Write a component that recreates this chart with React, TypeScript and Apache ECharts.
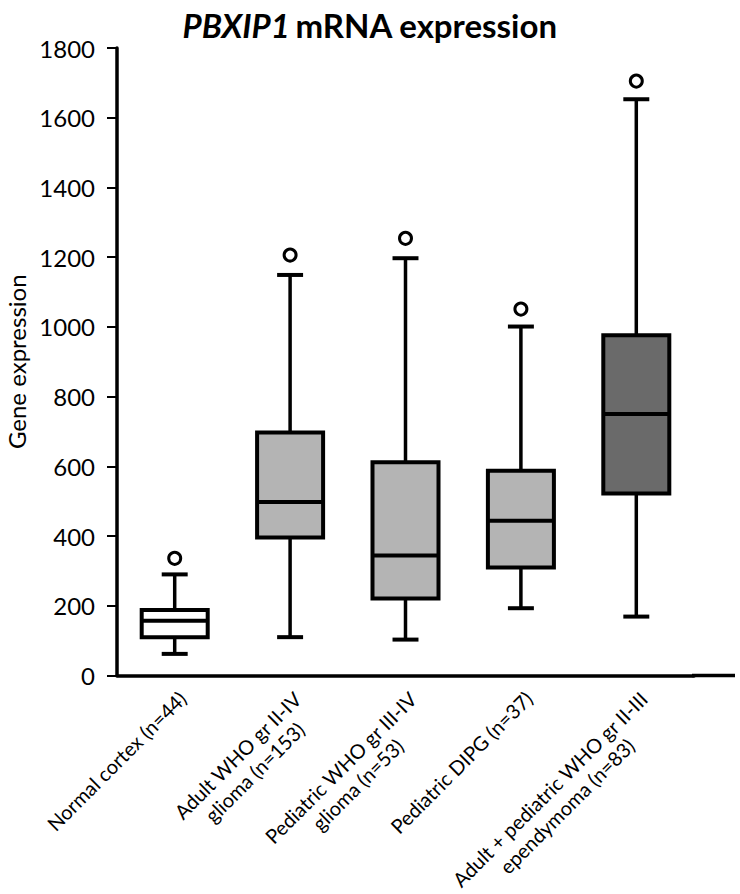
import React, { useEffect, useRef } from 'react';
import * as echarts from 'echarts';

const categories = [
  'Normal cortex (n=44)',
  'Adult WHO gr II-IV\nglioma (n=153)',
  'Pediatric WHO gr III-IV\nglioma (n=53)',
  'Pediatric DIPG (n=37)',
  'Adult + pediatric WHO gr II-III\nependymoma (n=83)',
];
const whiskerLow = [62, 110, 103, 193, 169];
const q1Values = [110, 396, 221, 310, 522];
const medians = [157, 498, 344, 444, 750];
const q3Values = [188, 697, 612, 587, 976];
const whiskerHigh = [290, 1149, 1197, 1001, 1653];
const outliers = [336, 1206, 1254, 1051, 1705];
const yTicks = { min: 0, max: 1800, interval: 200 };

const boxFills = ['#ffffff', '#b4b4b4', '#b4b4b4', '#b4b4b4', '#6a6a6a'];
const FONT = 'Lato, "Open Sans", sans-serif';
const X_FONT = 20;

export default function App() {
  const ref = useRef<HTMLDivElement>(null);
  useEffect(() => {
    document.body.style.margin = '0';
    const chart = echarts.init(ref.current!, null, { renderer: 'svg' });

    const ctx = document.createElement('canvas').getContext('2d')!;
    ctx.font = `${X_FONT}px Lato`;
    const rich: any = {};
    categories.forEach((c, i) => {
      const w = Math.max(...c.split('\n').map((l) => ctx.measureText(l).width));
      rich['l' + i] = {
        width: Math.ceil(w) + 2,
        align: 'center',
        fontSize: X_FONT,
        fontFamily: FONT,
        color: '#000',
        lineHeight: 24,
      };
    });

    const gridTop = 48;
    const gridBottom = 218.5;
    const gridLeft = 117;
    const gridRight = 46;

    const boxData = categories.map((_, i) => [
      i,
      whiskerLow[i],
      q1Values[i],
      medians[i],
      q3Values[i],
      whiskerHigh[i],
    ]);

    chart.setOption({
      animation: false,
      backgroundColor: '#ffffff',
      title: {
        text: '{i|PBXIP1} {b|mRNA expression}',
        left: 'center',
        top: 3,
        textStyle: {
          rich: {
            i: { fontFamily: FONT, fontSize: 33, fontWeight: 'bold', fontStyle: 'italic', color: '#000' },
            b: { fontFamily: FONT, fontSize: 33, fontWeight: 'bold', color: '#000' },
          },
        },
      },
      grid: {
        top: gridTop,
        bottom: gridBottom,
        left: gridLeft,
        right: gridRight,
        containLabel: false,
        outerBoundsMode: 'none',
      },
      xAxis: {
        type: 'category',
        data: categories,
        boundaryGap: true,
        axisLine: { lineStyle: { color: '#000', width: 3.5 } },
        axisTick: { alignWithLabel: true, length: 6, lineStyle: { color: '#000', width: 3 } },
        axisLabel: {
          rotate: 45,
          align: 'right',
          verticalAlign: 'top',
          margin: 10,
          interval: 0,
          rich,
          formatter: (value: string, index: number) =>
            value
              .split('\n')
              .map((l) => `{l${index}|${l}}`)
              .join('\n'),
        },
      },
      yAxis: {
        type: 'value',
        min: yTicks.min,
        max: yTicks.max,
        interval: yTicks.interval,
        name: 'Gene expression',
        nameLocation: 'middle',
        nameGap: 84,
        nameTextStyle: { fontFamily: FONT, fontSize: 24, color: '#000' },
        splitLine: { show: false },
        axisLine: { show: true, lineStyle: { color: '#000', width: 3.5 } },
        axisTick: { show: true, length: 10, lineStyle: { color: '#000', width: 2 } },
        axisLabel: {
          fontFamily: FONT,
          fontSize: 24,
          color: '#000',
          margin: 22,
          formatter: (v: number) => String(v),
        },
      },
      graphic: [
        {
          type: 'line',
          z: 10,
          shape: { x1: 740 - gridRight - 2, y1: 894 - gridBottom, x2: 735, y2: 894 - gridBottom },
          style: { stroke: '#000', lineWidth: 3.5 },
        },
      ],
      series: [
        {
          type: 'custom',
          data: boxData,
          encode: { x: 0, y: [1, 2, 3, 4, 5] },
          z: 3,
          renderItem: (params: any, api: any) => {
            const i = api.value(0);
            const [cx, yMin] = api.coord([i, api.value(1)]);
            const yQ1 = api.coord([i, api.value(2)])[1];
            const yMed = api.coord([i, api.value(3)])[1];
            const yQ3 = api.coord([i, api.value(4)])[1];
            const yMax = api.coord([i, api.value(5)])[1];
            const band = api.size([1, 0])[0];
            const bw = band * 0.572;
            const cw = band * 0.225;
            const stroke = { stroke: '#000', lineWidth: 3.5 };
            return {
              type: 'group',
              children: [
                { type: 'line', shape: { x1: cx, y1: yMax, x2: cx, y2: yQ3 }, style: stroke },
                { type: 'line', shape: { x1: cx, y1: yQ1, x2: cx, y2: yMin }, style: stroke },
                {
                  type: 'line',
                  shape: { x1: cx - cw / 2, y1: yMax, x2: cx + cw / 2, y2: yMax },
                  style: { stroke: '#000', lineWidth: 4 },
                },
                {
                  type: 'line',
                  shape: { x1: cx - cw / 2, y1: yMin, x2: cx + cw / 2, y2: yMin },
                  style: { stroke: '#000', lineWidth: 4 },
                },
                {
                  type: 'rect',
                  shape: { x: cx - bw / 2, y: yQ3, width: bw, height: yQ1 - yQ3 },
                  style: { fill: boxFills[i], stroke: '#000', lineWidth: 4 },
                },
                {
                  type: 'line',
                  shape: { x1: cx - bw / 2, y1: yMed, x2: cx + bw / 2, y2: yMed },
                  style: { stroke: '#000', lineWidth: 4 },
                },
              ],
            };
          },
        },
        {
          type: 'scatter',
          data: outliers.map((v, i) => [i, v]),
          symbol: 'circle',
          symbolSize: 12,
          z: 4,
          itemStyle: { color: '#fff', borderColor: '#000', borderWidth: 3, opacity: 1 },
        },
      ],
    });

    return () => chart.dispose();
  }, []);
  return <div ref={ref} style={{ width: 740, height: 894 }} />;
}
